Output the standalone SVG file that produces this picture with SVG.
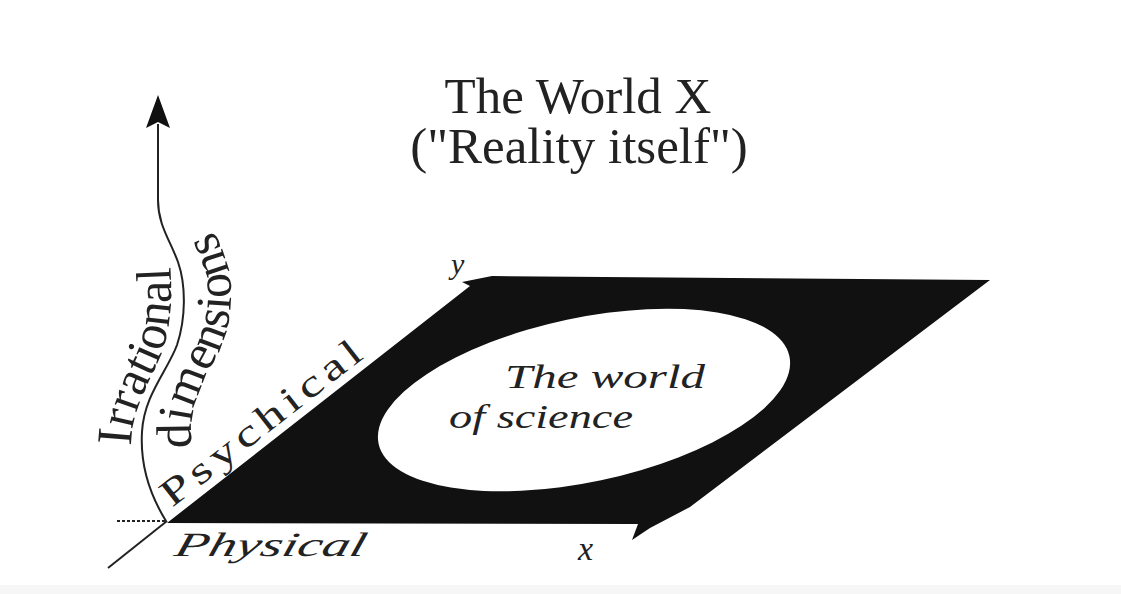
<svg xmlns="http://www.w3.org/2000/svg" width="1121" height="594" viewBox="0 0 1121 594">
  <style>
    .serif { font-family: "Liberation Serif", "Times New Roman", serif; fill: #222; }
    .title { font-size: 51px; text-anchor: middle; }
    .axislbl { font-size: 50px; }
    .ital { font-style: italic; }
    .line { fill: none; stroke: #222; stroke-width: 2; }
  </style>
  <defs>
    <marker id="arrow" markerUnits="userSpaceOnUse" markerWidth="34" markerHeight="26" viewBox="0 0 34 26" refX="4" refY="13" orient="auto">
      <path d="M0,1 L33,13 L0,25 L6,13 Z" fill="#111"/>
    </marker>
    <path id="pIrr" d="M131,446 C131,412 148,385 160,357 C170,332 174,298 169,250"/>
    <path id="pDim" d="M192,448 C187,412 202,382 216,357 C230,332 234,298 229,272 C224,248 210,228 206,205"/>
  </defs>
  <rect x="0" y="0" width="1121" height="594" fill="#ffffff"/>
  <rect x="0" y="585" width="1121" height="9" fill="#f6f6f6"/>

  <g id="title">
    <text class="serif title" x="578" y="113">The World X</text>
    <text class="serif title" x="579" y="163">("Reality itself")</text>
  </g>

  <g id="plane">
    <polygon points="167,523 470,286 462,282 492,276 990,280 690,507 650,528 632,540 638,524" fill="#111"/>
  </g>

  <g id="science">
    <ellipse cx="584" cy="400" rx="210" ry="82" transform="rotate(-12 584 400)" fill="#ffffff"/>
    <text class="serif ital" font-size="34" x="505" y="388" textLength="200" lengthAdjust="spacingAndGlyphs">The world</text>
    <text class="serif ital" font-size="34" x="449" y="428" textLength="184" lengthAdjust="spacingAndGlyphs">of science</text>
  </g>

  <g id="connectors">
    <path class="line" d="M166,521 C150,495 140,465 142,432 C144,395 168,370 177,345 C186,318 186,285 178,262 C170,240 158,225 158,200 L158,124" marker-end="url(#arrow)"/>
    <path class="line" d="M117,521 L167,521" stroke-dasharray="3,2"/>
    <path class="line" d="M167,521 L108,568"/>
  </g>

  <g id="irrational">
    <text class="serif axislbl"><textPath href="#pIrr">Irrational</textPath></text>
    <text class="serif axislbl"><textPath href="#pDim">dimensions</textPath></text>
  </g>

  <g id="psychical">
    <text class="serif" font-size="38" letter-spacing="4" transform="translate(172,508) rotate(-38)" textLength="250" lengthAdjust="spacingAndGlyphs">Psychical</text>
  </g>

  <g id="physical">
    <text class="serif ital" font-size="34" transform="translate(173,556) skewX(-15)" textLength="190" lengthAdjust="spacingAndGlyphs">Physical</text>
  </g>

  <g id="axis-x">
    <text class="serif ital" font-size="34" x="578" y="560">x</text>
  </g>
  <g id="axis-y">
    <text class="serif ital" font-size="30" x="451" y="274">y</text>
  </g>
</svg>
